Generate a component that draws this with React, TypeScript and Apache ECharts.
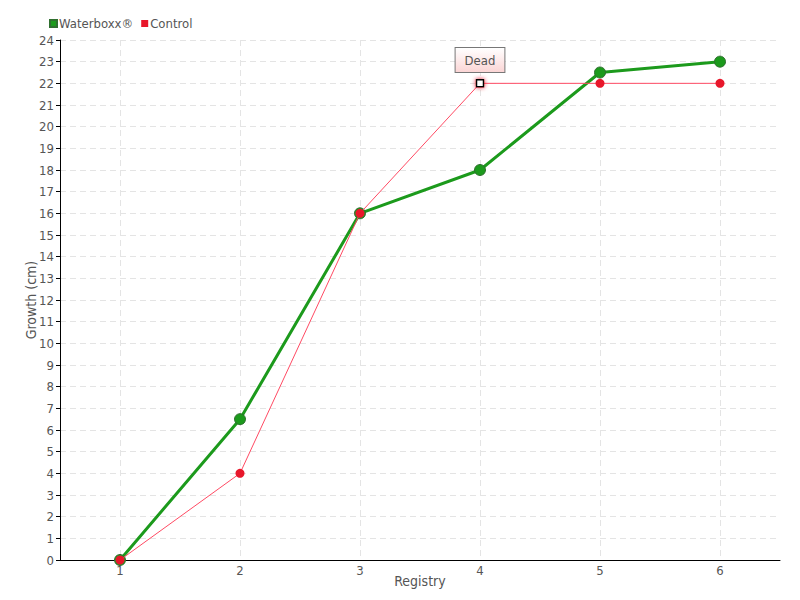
import React, { useEffect, useRef } from "react";
import * as echarts from "echarts";

const categories = ["1", "2", "3", "4", "5", "6"];
const waterboxxValues = [0, 6.5, 16, 18, 22.5, 23];
const controlValues = [0, 4, 16, 22, 22, 22];
const deadIndex = 3;
const deadLabel = "Dead";

const FONT = "'DejaVu Sans Condensed', 'Liberation Sans Narrow', sans-serif";

export default function App() {
  const ref = useRef<HTMLDivElement>(null);
  useEffect(() => {
    const chart = echarts.init(ref.current!, null, { renderer: "svg" });
    const controlData = controlValues.map((v, i) =>
      i === deadIndex
        ? {
            value: v,
            symbol: "rect",
            symbolSize: 7,
            itemStyle: { color: "#ffffff", borderColor: "#000000", borderWidth: 1.5, shadowColor: "#e8172b", shadowBlur: 4 },
            label: {
              show: true,
              position: "top",
              distance: 7,
              formatter: deadLabel,
              color: "#555",
              fontFamily: FONT,
              fontSize: 13,
              padding: [6, 9, 5, 9],
              borderColor: "#777",
              borderWidth: 1,
              backgroundColor: {
                type: "linear",
                x: 0, y: 0, x2: 0, y2: 1,
                colorStops: [
                  { offset: 0, color: "#ffffff" },
                  { offset: 1, color: "#fbd5d5" },
                ],
              },
            },
          }
        : v
    );
    chart.setOption({
      animation: false,
      backgroundColor: "#ffffff",
      textStyle: { fontFamily: FONT },
      legend: {
        left: 44,
        top: 12,
        itemWidth: 7,
        itemHeight: 7,
        itemGap: 8,
        icon: "rect",
        textStyle: { color: "#555", fontSize: 13, fontFamily: FONT, padding: [0, 0, 0, -3] },
        data: ["Waterboxx®", "Control"],
      },
      grid: { left: 60, right: 20, top: 40, bottom: 40, containLabel: false },
      xAxis: {
        type: "category",
        data: categories,
        name: "Registry",
        nameLocation: "middle",
        nameGap: 14,
        nameMoveOverlap: false,
        nameTextStyle: { color: "#555", fontSize: 14, fontFamily: FONT },
        axisLine: { lineStyle: { color: "#000", width: 1 } },
        axisTick: { alignWithLabel: true, length: 5, lineStyle: { color: "#555" } },
        axisLabel: { color: "#555", fontSize: 13, margin: 4, fontFamily: FONT },
        splitLine: {
          show: true,
          alignWithLabel: true,
          lineStyle: { color: "#e4e4e4", type: [6, 4] },
        },
      } as any,
      yAxis: {
        type: "value",
        min: 0,
        max: 24,
        interval: 1,
        name: "Growth (cm)",
        nameLocation: "middle",
        nameGap: 22,
        nameMoveOverlap: false,
        nameTextStyle: { color: "#555", fontSize: 14, fontFamily: FONT },
        axisLine: { show: true, lineStyle: { color: "#000", width: 1 } },
        axisTick: { show: true, length: 4, lineStyle: { color: "#000" } },
        axisLabel: { color: "#555", fontSize: 13, margin: 6, fontFamily: FONT },
        splitLine: { show: true, lineStyle: { color: "#e4e4e4", type: [6, 4] } },
      } as any,
      series: [
        {
          name: "Waterboxx®",
          type: "line",
          data: waterboxxValues,
          color: "#1c9a1c",
          symbol: "circle",
          symbolSize: 11,
          lineStyle: { color: "#1c9a1c", width: 3 },
          itemStyle: { color: "#1c9a1c", borderColor: "#2f6f2f", borderWidth: 1 },
          z: 2,
        },
        {
          name: "Control",
          type: "line",
          data: controlData,
          color: "#e8172b",
          symbol: "circle",
          symbolSize: 9,
          lineStyle: { color: "#ff4a63", width: 1 },
          itemStyle: { color: "#e8172b", borderColor: "#e8172b", borderWidth: 0 },
          z: 3,
        },
      ],
    });
    return () => chart.dispose();
  }, []);
  return <div ref={ref} style={{ width: 800, height: 600, position: "absolute", left: 0, top: 0 }} />;
}
